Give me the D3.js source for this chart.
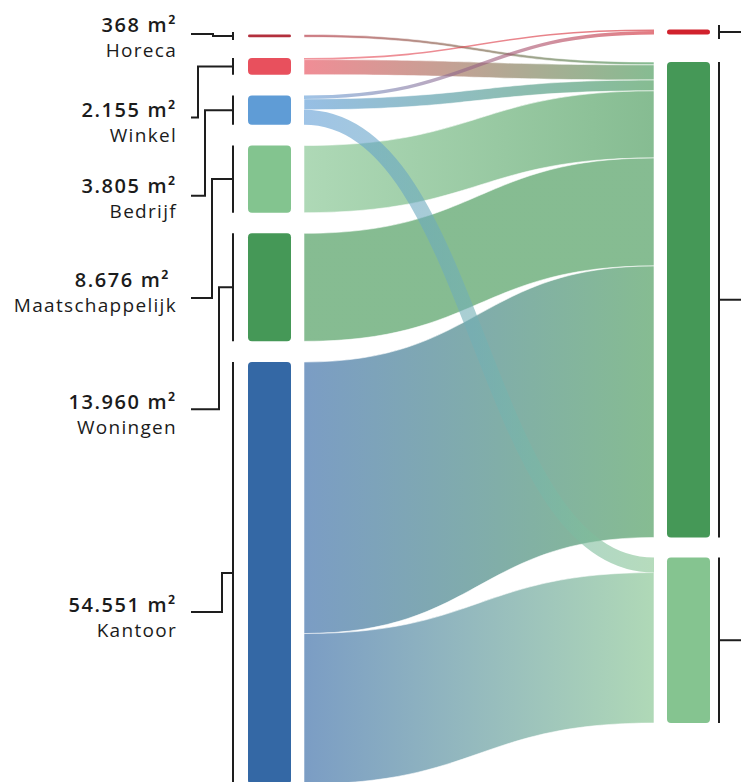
<!DOCTYPE html>
<html>
<head>
<meta charset="utf-8">
<title>Vloeroppervlak per functie</title>
<script src="https://d3js.org/d3.v7.min.js"></script>
<style>
  body { margin: 0; background: #fff; }
  svg { display: block; }
  .val  { font: 600 20px "Open Sans", sans-serif; letter-spacing: 1.6px; fill: #1b1b1b; }
  .name { font: 400 19px "Open Sans", sans-serif; letter-spacing: 1.3px; fill: #1b1b1b; }
  .tick { fill: none; stroke: #1e1e1e; stroke-width: 2; }
</style>
</head>
<body>
<script>
// ---- data ----
var leftNames  = ["Horeca", "Winkel", "Bedrijf", "Maatschappelijk", "Woningen", "Kantoor"];
var leftValues = [368, 2155, 3805, 8676, 13960, 54551];
var leftLabels = ["368 m²", "2.155 m²", "3.805 m²", "8.676 m²\u00a0", "13.960 m²", "54.551 m²"];
var leftColors = ["#b3303d", "#e8505d", "#5f9cd6", "#83c48f", "#459857", "#3468a5"];

var rightNames  = ["Rood", "Groen", "Lichtgroen"];
var rightColors = ["#d1222d", "#459857", "#85c490"];

// flows: source index (left), target index (right), m²
var linkSource = [0, 1, 1, 2, 2, 2, 3, 4, 5, 5];
var linkTarget = [1, 0, 1, 0, 1, 2, 1, 1, 1, 2];
var linkValue  = [368, 200, 1955, 450, 1405, 1950, 8676, 13960, 35100, 19451];

// ---- layout ----
var width = 749, height = 782;
var leftX = 248, rightX = 667, nodeW = 43;
var linkX0 = 304, linkX1 = 654;
var leftTop = 34.5, leftPad = 20.7;
var rightTop = 29.5, rightGaps = [27.5, 20];

var total = d3.sum(leftValues);
var ky = d3.scaleLinear().domain([0, total]).range([0, 646]);

var rightValues = rightNames.map(function(d, j) {
  return d3.sum(linkValue.filter(function(v, i) { return linkTarget[i] == j; }));
});

function stack(values, top, gap) {
  var y = top;
  return values.map(function(v, i) {
    var n = { y0: y, y1: y + ky(v) };
    y = n.y1 + (typeof gap === "number" ? gap : gap[i]);
    return n;
  });
}
var leftNodes = stack(leftValues, leftTop, leftPad);
var rightNodes = stack(rightValues, rightTop, rightGaps);

// link positions inside each node
var sCursor = leftNodes.map(function(n) { return n.y0; });
var tCursor = rightNodes.map(function(n) { return n.y0; });
var links = linkValue.map(function(v, i) {
  var s = linkSource[i], t = linkTarget[i], w = ky(v);
  var l = { i: i, s: s, t: t, width: w,
            sy0: sCursor[s], sy1: sCursor[s] + w, ty0: tCursor[t], ty1: tCursor[t] + w };
  l.sy = (l.sy0 + l.sy1) / 2;
  l.ty = (l.ty0 + l.ty1) / 2;
  sCursor[s] += w; tCursor[t] += w;
  return l;
});

// a flow that crosses a flatter flow is drawn as a ribbon on top
links.forEach(function(a) {
  a.over = links.some(function(b) {
    return (a.sy - b.sy) * (a.ty - b.ty) < 0 &&
      Math.abs(a.ty - a.sy) > Math.abs(b.ty - b.sy);
  });
});

var svg = d3.select("body").append("svg")
  .attr("width", width)
  .attr("height", height);

var defs = svg.append("defs");
links.forEach(function(l) {
  var g = defs.append("linearGradient")
    .attr("id", "grad" + l.i)
    .attr("gradientUnits", "userSpaceOnUse")
    .attr("x1", linkX0).attr("x2", linkX1)
    .attr("y1", 0).attr("y2", 0);
  g.append("stop").attr("offset", "0%").attr("stop-color", leftColors[l.s]);
  g.append("stop").attr("offset", "100%").attr("stop-color", rightColors[l.t]);
});

var xm = (linkX0 + linkX1) / 2;
function band(l) {
  var p = d3.path();
  p.moveTo(linkX0, l.sy0);
  p.bezierCurveTo(xm, l.sy0, xm, l.ty0, linkX1, l.ty0);
  p.lineTo(linkX1, l.ty1);
  p.bezierCurveTo(xm, l.ty1, xm, l.sy1, linkX0, l.sy1);
  p.closePath();
  return p.toString();
}
var ribbon = d3.linkHorizontal()
  .source(function(d) { return [linkX0, d.sy]; })
  .target(function(d) { return [linkX1, d.ty]; });

// flows
svg.append("g").selectAll("path")
  .data(links.filter(function(d) { return !d.over; }))
  .enter()
  .append("path")
  .attr("d", band)
  .attr("fill", function(d) { return "url(#grad" + d.i + ")"; })
  .attr("fill-opacity", 0.65)
  .attr("stroke", "#fff")
  .attr("stroke-opacity", 0.7)
  .attr("stroke-width", 0.8);

svg.append("g").attr("fill", "none").selectAll("path")
  .data(links.filter(function(d) { return d.over; }))
  .enter()
  .append("path")
  .attr("d", ribbon)
  .attr("stroke", function(d) { return "url(#grad" + d.i + ")"; })
  .attr("stroke-opacity", 0.6)
  .attr("stroke-width", function(d) { return Math.max(1, d.width); });

// nodes
svg.append("g").selectAll("rect")
  .data(leftNodes)
  .enter()
  .append("rect")
  .attr("x", leftX)
  .attr("y", function(d) { return d.y0; })
  .attr("width", nodeW)
  .attr("height", function(d) { return d.y1 - d.y0; })
  .attr("rx", function(d) { return Math.min(4, (d.y1 - d.y0) / 2); })
  .attr("fill", function(d, i) { return leftColors[i]; });

svg.append("g").selectAll("rect")
  .data(rightNodes)
  .enter()
  .append("rect")
  .attr("x", rightX)
  .attr("y", function(d) { return d.y0; })
  .attr("width", nodeW)
  .attr("height", function(d) { return d.y1 - d.y0; })
  .attr("rx", function(d) { return Math.min(4, (d.y1 - d.y0) / 2); })
  .attr("fill", function(d, i) { return rightColors[i]; });

// brackets
var bxL = 233, bxR = 719, minHalf = 4;
leftNodes.forEach(function(n) {
  var c = (n.y0 + n.y1) / 2, h = Math.max((n.y1 - n.y0) / 2, minHalf);
  svg.append("line").attr("class", "tick")
    .attr("x1", bxL).attr("x2", bxL).attr("y1", c - h).attr("y2", c + h);
});
rightNodes.forEach(function(n) {
  var c = (n.y0 + n.y1) / 2, h = Math.max((n.y1 - n.y0) / 2, 7);
  svg.append("line").attr("class", "tick")
    .attr("x1", bxR).attr("x2", bxR).attr("y1", c - h).attr("y2", c + h);
  svg.append("line").attr("class", "tick")
    .attr("x1", bxR).attr("x2", bxR + 22).attr("y1", c).attr("y2", c);
});

// labels + leader lines (left)
var labelDy = [-4, 51, 83, 108, 122, 39];   // value baseline relative to node centre
var leaderDy = [2, 0, 2.5, 11, 0, 0];        // leader line relative to value baseline
var textX = 177, lineX = 191;
leftNodes.forEach(function(n, i) {
  var c = (n.y0 + n.y1) / 2;
  var by = c + labelDy[i];
  var ly = by + leaderDy[i];
  var ex = i == 0 ? 213 : Math.min(184 + 7 * (i + 1), 222);
  svg.append("path").attr("class", "tick")
    .attr("d", "M" + lineX + "," + ly + "H" + ex + "V" + c + "H" + bxL);
  svg.append("text").attr("class", "val")
    .attr("x", textX).attr("y", by)
    .attr("text-anchor", "end")
    .text(leftLabels[i]);
  svg.append("text").attr("class", "name")
    .attr("x", textX).attr("y", by + 25)
    .attr("text-anchor", "end")
    .text(leftNames[i]);
});
</script>
</body>
</html>
